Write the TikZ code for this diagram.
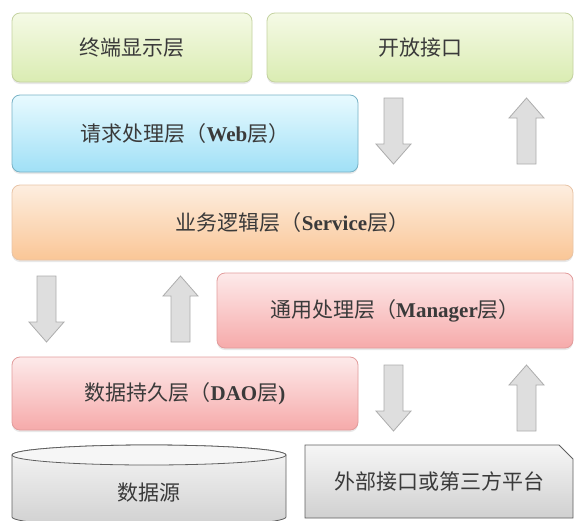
\documentclass[tikz,border=0pt]{standalone}
\usepackage{fontspec}
\setmainfont{Noto Sans CJK SC}
\newfontfamily\latinserif{Liberation Serif}
\usetikzlibrary{shapes.misc,shadows}

\newcommand\enb[1]{{\latinserif\bfseries #1}}

\definecolor{txtgray}{RGB}{58,58,58}
\definecolor{greentop}{RGB}{245,250,230}
\definecolor{greenbot}{RGB}{218,236,178}
\definecolor{greenline}{RGB}{196,210,160}
\definecolor{bluetop}{RGB}{232,250,255}
\definecolor{bluebot}{RGB}{160,224,246}
\definecolor{blueline}{RGB}{120,178,198}
\definecolor{orangetop}{RGB}{253,238,224}
\definecolor{orangebot}{RGB}{250,198,150}
\definecolor{orangeline}{RGB}{232,196,166}
\definecolor{pinktop}{RGB}{253,234,234}
\definecolor{pinkbot}{RGB}{246,170,170}
\definecolor{pinkline}{RGB}{226,156,156}
\definecolor{graytop}{RGB}{246,246,246}
\definecolor{graybot}{RGB}{208,208,208}
\definecolor{grayline}{RGB}{95,95,95}
\definecolor{arrowfill}{RGB}{222,222,222}
\definecolor{arrowline}{RGB}{172,172,172}

\tikzset{
    layer/.style={rounded corners=8pt, line width=0.8pt, text=txtgray,
        font=\fontsize{21}{25}\selectfont,
        drop shadow={opacity=0.18, shadow xshift=0pt, shadow yshift=-2pt}},
    greenlayer/.style={layer, draw=greenline, top color=greentop, bottom color=greenbot},
    bluelayer/.style={layer, draw=blueline, top color=bluetop, bottom color=bluebot},
    orangelayer/.style={layer, draw=orangeline, top color=orangetop, bottom color=orangebot},
    pinklayer/.style={layer, draw=pinkline, top color=pinktop, bottom color=pinkbot},
    grayblk/.style={draw=arrowline, fill=arrowfill, line width=0.8pt},
    pics/downblk/.style={code={
        \draw[grayblk] (-9.5,0) -- (9.5,0) -- (9.5,46) -- (17.5,46) -- (0,66)
            -- (-17.5,46) -- (-9.5,46) -- cycle;}},
    pics/upblk/.style={code={
        \draw[grayblk] (-9.5,0) -- (9.5,0) -- (9.5,-46) -- (17.5,-46) -- (0,-66)
            -- (-17.5,-46) -- (-9.5,-46) -- cycle;}},
}

\begin{document}
\begin{tikzpicture}[x=1pt, y=-1pt]
    \useasboundingbox (0,0) rectangle (576,520);
    % layers:
    \node[greenlayer, minimum width=240, minimum height=69] (term) at (132,47.5) {终端显示层};
    \node[greenlayer, minimum width=306, minimum height=69] (open) at (420,47.5) {开放接口};
    \node[bluelayer, minimum width=346, minimum height=77] (web) at (185,133.5) {请求处理层（\enb{Web}层）};
    \node[orangelayer, minimum width=561, minimum height=75] (service) at (292.5,222.5) {业务逻辑层（\enb{Service}层）};
    \node[pinklayer, minimum width=356, minimum height=75] (manager) at (395,310.5) {通用处理层（\enb{Manager}层）};
    \node[pinklayer, minimum width=346, minimum height=73] (dao) at (185,393.5) {数据持久层（\enb{DAO}层\enb{)}};
    % block arrows:
    \pic at (393.5,98) {downblk};
    \pic at (526.5,164) {upblk};
    \pic at (46.5,276) {downblk};
    \pic at (180.5,342) {upblk};
    \pic at (393.5,365) {downblk};
    \pic at (526.5,431) {upblk};
    % data source and outer interfaces:
    \path[draw=grayline, line width=0.8pt, top color=graytop, bottom color=graybot]
        (12,455) -- (12,517) arc[start angle=180, end angle=0, x radius=137, y radius=10]
        -- (286,455) arc[start angle=0, end angle=-180, x radius=137, y radius=10] -- cycle;
    \draw[draw=grayline, line width=0.8pt, fill=graytop] (149,455) ellipse[x radius=137, y radius=10];
    \node[text=txtgray, font=\fontsize{21}{25}\selectfont] (src) at (149,493) {数据源};
    \node[chamfered rectangle, chamfered rectangle corners=north east,
        chamfered rectangle xsep=7pt, chamfered rectangle ysep=7pt,
        draw=grayline, line width=0.8pt, top color=graytop, bottom color=graybot,
        text=txtgray, font=\fontsize{21}{25}\selectfont,
        minimum width=268, minimum height=73] (ext) at (439,481.5) {外部接口或第三方平台};
\end{tikzpicture}
\end{document}
